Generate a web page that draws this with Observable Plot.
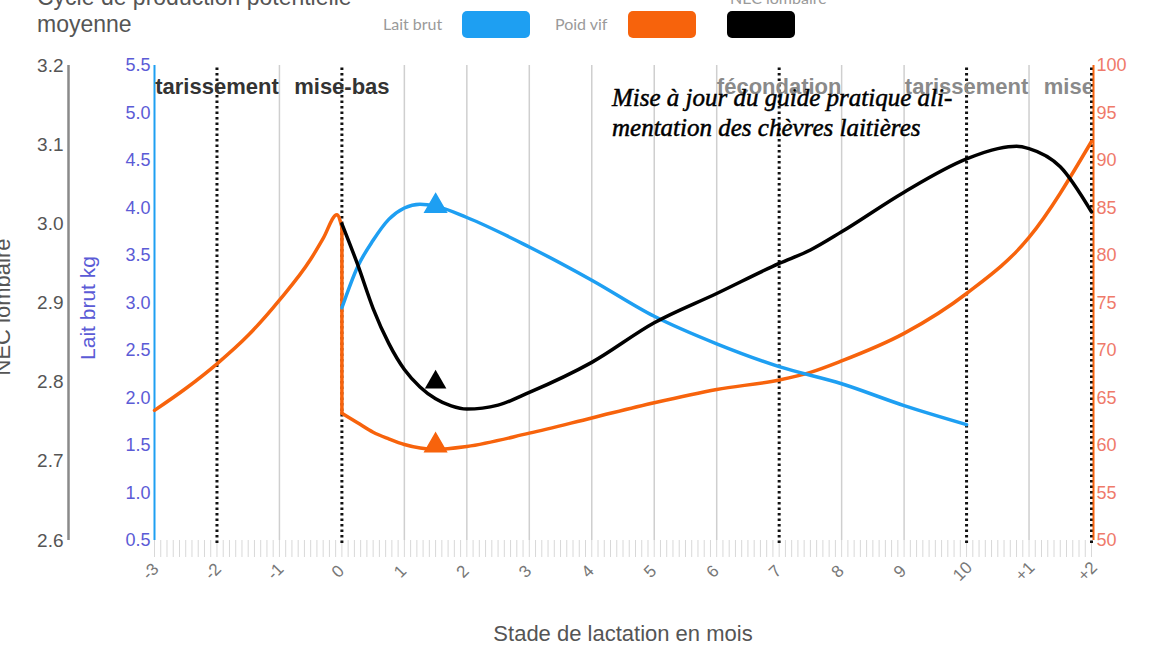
<!DOCTYPE html>
<html>
<head>
<meta charset="utf-8">
<script src="https://cdn.jsdelivr.net/npm/d3@7"></script>
<script src="https://cdn.jsdelivr.net/npm/@observablehq/plot@0.6"></script>
<style>
  body { margin: 0; background: #fff; }
  #wrap { position: relative; width: 1152px; height: 655px; overflow: hidden; font-family: "Liberation Sans", Arial, sans-serif; }
  #chart { position: absolute; left: 0; top: 0; }
  .title { position: absolute; left: 37px; top: -16px; font-size: 23px; line-height: 27px; color: #555; }
  .lg { position: absolute; font-family: Lato, "Noto Sans", sans-serif; font-size: 16px; color: #9a9a9a; }
  .sw { position: absolute; top: 11px; width: 68px; height: 27px; border-radius: 5px; }
  .note { position: absolute; left: 612px; top: 83px; font-family: "Liberation Serif", serif; font-style: italic; font-size: 25px; line-height: 30px; color: #000; white-space: nowrap; -webkit-text-stroke: 0.5px #000; }
</style>
</head>
<body>
<div id="wrap">
  <div id="chart"></div>
  <div class="title">Cycle de production potentielle<br>moyenne</div>
  <div class="lg" style="left:383px;top:14px">Lait brut</div>
  <div class="sw" style="left:462px;background:#1e9ff2"></div>
  <div class="lg" style="left:555px;top:14px">Poid vif</div>
  <div class="sw" style="left:628px;background:#f7630c"></div>
  <div class="lg" style="left:730px;top:-12px">NEC lombaire</div>
  <div class="sw" style="left:727px;background:#000"></div>
  <div class="note">Mise à jour du guide pratique ali-<br>mentation des chèvres laitières</div>
</div>
<script>
// ---- Data ----
const xTicks = [-3, -2, -1, 0, 1, 2, 3, 4, 5, 6, 7, 8, 9, 10, 11, 12];
const xTickLabels = ["-3", "-2", "-1", "0", "1", "2", "3", "4", "5", "6", "7", "8", "9", "10", "+1", "+2"];
const keyMonths = [-2, 0, 7, 10, 12];
const stageMonths = [-2, 0, 7, 10, 12];
const stageLabels = ["tarissement", "mise-bas", "fécondation", "tarissement", "mise-bas"];

const milkTicks = [0.5, 1.0, 1.5, 2.0, 2.5, 3.0, 3.5, 4.0, 4.5, 5.0, 5.5];
const necTicks = [2.6, 2.7, 2.8, 2.9, 3.0, 3.1, 3.2];
const weightTicks = [50, 55, 60, 65, 70, 75, 80, 85, 90, 95, 100];

// Lait brut (kg)
const milkMonths = [0, 0.25, 0.5, 0.75, 1, 1.25, 1.5, 2, 3, 4, 5, 6, 7, 8, 9, 10];
const milkValues = [2.95, 3.38, 3.66, 3.88, 4.0, 4.04, 4.02, 3.9, 3.59, 3.24, 2.86, 2.57, 2.33, 2.15, 1.92, 1.72];

// Poids vif (kg) – before and after mise-bas
const weightPreMonths = [-3, -2.5, -2, -1.5, -1, -0.5, -0.3, -0.08, 0];
const weightPreValues = [63.7, 66.0, 68.6, 71.6, 75.3, 79.6, 81.8, 84.3, 83.0];
const weightPostMonths = [0, 0.25, 0.5, 0.75, 1, 1.5, 2, 3, 4, 5, 6, 7, 7.5, 8, 9, 10, 11, 12];
const weightPostValues = [63.4, 62.4, 61.4, 60.7, 60.1, 59.6, 59.9, 61.3, 62.9, 64.5, 65.9, 66.9, 67.7, 68.9, 71.8, 76.0, 81.9, 92.0];

// NEC lombaire
const necMonths = [0, 0.25, 0.5, 0.75, 1, 1.25, 1.5, 1.75, 2, 2.5, 3, 4, 5, 6, 7, 7.5, 8, 9, 10, 10.5, 10.8, 11, 11.5, 12];
const necValues = [3.0, 2.949, 2.893, 2.849, 2.816, 2.794, 2.779, 2.77, 2.766, 2.771, 2.787, 2.825, 2.875, 2.912, 2.95, 2.967, 2.99, 3.04, 3.082, 3.095, 3.098, 3.095, 3.072, 3.015];

// Markers (triangles)
const markerMonth = 1.5;
const milkMarker = 4.02;
const weightMarker = 60.0;
const necMarker = 2.8;

// ---- Scale mappings onto the shared (milk) y scale ----
const milkDomain = [0.5, 5.5];
const weightDomain = [50, 100];
const necDomain = [2.6, 3.2];
const weightToY = d3.scaleLinear(weightDomain, milkDomain);
const necToY = d3.scaleLinear(necDomain, milkDomain);

const BLUE = "#1e9ff2", ORANGE = "#f7630c", BLACK = "#000";

const milk = milkMonths.map((m, i) => ({m, y: milkValues[i]}));
const weight = [
  ...weightPreMonths.map((m, i) => ({m, y: weightToY(weightPreValues[i]), s: "a"})),
  {m: 0, y: weightToY(weightPreValues[weightPreValues.length - 1]), s: "b"},
  {m: 0, y: weightToY(weightPostValues[0]), s: "b"},
  ...weightPostMonths.map((m, i) => ({m, y: weightToY(weightPostValues[i]), s: "c"}))
];
const nec = necMonths.map((m, i) => ({m, y: necToY(necValues[i])}));

const minor = d3.range(-3, 12.001, 0.1);
const gridMonths = xTicks.filter(m => !keyMonths.includes(m) && m !== -3);

const chart = Plot.plot({
  width: 1152,
  height: 655,
  marginLeft: 154,
  marginRight: 61,
  marginTop: 65,
  marginBottom: 115,
  style: {background: "transparent", fontFamily: "'Liberation Sans', Arial, sans-serif"},
  x: {domain: [-3, 12], axis: null},
  y: {domain: milkDomain, axis: null},
  marks: [
    // minor ticks band below the frame
    Plot.ruleX(minor, {x: d => d, y1: 0.5, y2: 0.5 - 17 / 95, stroke: "#d8d8d8", strokeWidth: 1}),
    // month grid
    Plot.ruleX(gridMonths, {stroke: "#cfcfcf", strokeWidth: 1.5}),
    // key stages (dotted)
    Plot.ruleX(keyMonths, {y1: 0.5 - 3 / 95, y2: 5.5, stroke: "#111", strokeWidth: 3, strokeDasharray: "2.5 3"}),
    // axis lines
    Plot.ruleX([-3], {stroke: BLUE, strokeWidth: 2}),
    Plot.ruleX([-3], {stroke: "#8a8a8a", strokeWidth: 2.5, dx: -86}),
    Plot.ruleX([12], {stroke: ORANGE, strokeWidth: 2, dx: 2}),
    // stage labels
    Plot.text(stageMonths, {x: d => d, text: (d, i) => stageLabels[i], frameAnchor: "top", lineAnchor: "middle", dy: 21,
      fontSize: 22, fontWeight: "bold", fill: (d) => d >= 7 ? "#8a8a8a" : "#333", clip: true}),
    // curves
    Plot.line(weight, {x: "m", y: "y", z: "s", stroke: ORANGE, strokeWidth: 3.5, curve: "monotone-x"}),
    Plot.line(milk, {x: "m", y: "y", stroke: BLUE, strokeWidth: 3.5, curve: "monotone-x"}),
    Plot.line(nec, {x: "m", y: "y", stroke: BLACK, strokeWidth: 3.5, curve: "monotone-x"}),
    // triangle markers
    Plot.dot([{m: markerMonth, y: milkMarker}], {x: "m", y: "y", symbol: "triangle", r: 8, fill: BLUE, stroke: BLUE}),
    Plot.dot([{m: markerMonth, y: weightToY(weightMarker)}], {x: "m", y: "y", symbol: "triangle", r: 8, fill: ORANGE, stroke: ORANGE}),
    Plot.dot([{m: markerMonth, y: necToY(necMarker)}], {x: "m", y: "y", symbol: "triangle", r: 8, fill: BLACK}),
    // milk axis labels
    Plot.text(milkTicks, {x: -3, y: d => d, text: d => d.toFixed(1), dx: -4, textAnchor: "end", fontSize: 18, fill: "#5b5bd6"}),
    // NEC axis labels
    Plot.text(necTicks, {x: -3, y: d => necToY(d), text: d => d.toFixed(1), dx: -91, textAnchor: "end", fontSize: 19, fill: "#555"}),
    // weight axis labels
    Plot.text(weightTicks, {x: 12, y: d => weightToY(d), text: d => String(d), dx: 5, textAnchor: "start", fontSize: 18, fill: "#ef7a6a"}),
    // axis titles
    Plot.text(["Lait brut kg"], {frameAnchor: "left", textAnchor: "middle", lineAnchor: "middle", dx: -66, dy: 5, rotate: -90, fontSize: 21, fill: "#5b5bd6"}),
    Plot.text(["NEC lombaire"], {frameAnchor: "left", textAnchor: "middle", lineAnchor: "middle", dx: -152, dy: 4, rotate: -90, fontSize: 22, fill: "#555"}),
    // x tick labels
    Plot.text(xTicks, {x: d => d, text: (d, i) => xTickLabels[i], frameAnchor: "bottom", lineAnchor: "middle", dy: 31, dx: -4, rotate: -45, fontSize: 17, fill: "#777"}),
    // x title
    Plot.text(["Stade de lactation en mois"], {frameAnchor: "bottom", lineAnchor: "middle", dy: 93, fontSize: 22, fill: "#555"})
  ]
});
document.getElementById("chart").append(chart);
</script>
</body>
</html>
